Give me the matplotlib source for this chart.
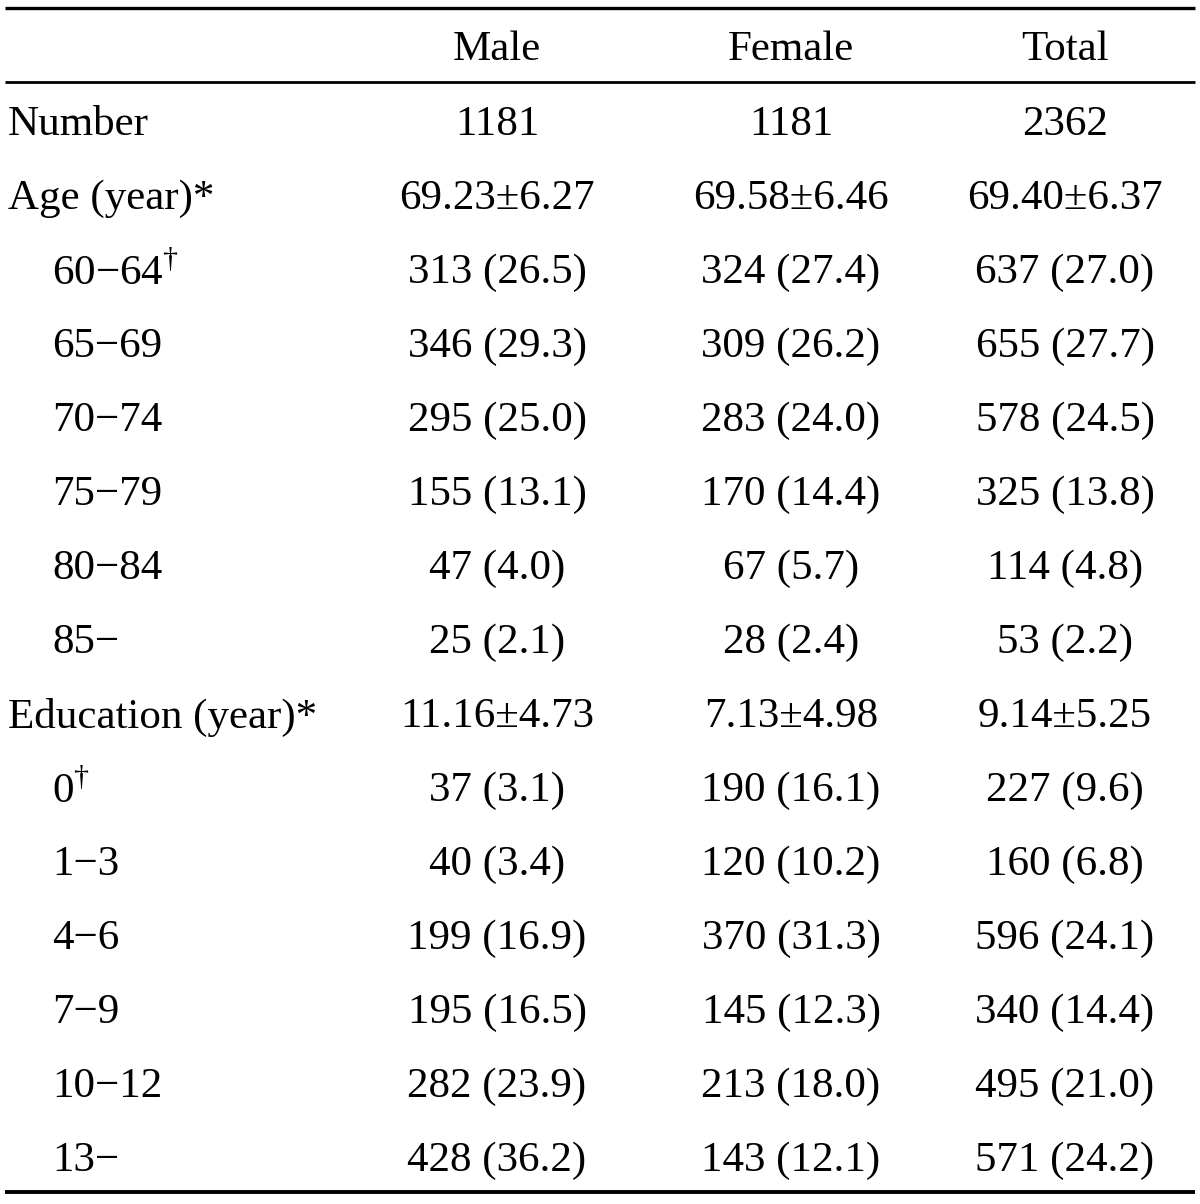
import matplotlib
matplotlib.use("Agg")
import matplotlib.pyplot as plt

plt.rcParams["font.family"] = ["Liberation Serif", "DejaVu Serif"]
plt.rcParams["mathtext.fontset"] = "custom"
plt.rcParams["mathtext.rm"] = "Liberation Serif"

# ── Table data ────────────────────────────────────────────────────────────────
columns = ["Male", "Female", "Total"]
row_labels = ["Number", "Age (year)*", "60−64$^{\\dagger}$", "65−69", "70−74", "75−79",
              "80−84", "85−", "Education (year)*", "0$^{\\dagger}$", "1−3", "4−6",
              "7−9", "10−12", "13−"]
indented = [False, False, True, True, True, True, True, True,
            False, True, True, True, True, True, True]
male = ["1181", "69.23±6.27", "313 (26.5)", "346 (29.3)", "295 (25.0)", "155 (13.1)",
        "47 (4.0)", "25 (2.1)", "11.16±4.73", "37 (3.1)", "40 (3.4)", "199 (16.9)",
        "195 (16.5)", "282 (23.9)", "428 (36.2)"]
female = ["1181", "69.58±6.46", "324 (27.4)", "309 (26.2)", "283 (24.0)", "170 (14.4)",
          "67 (5.7)", "28 (2.4)", "7.13±4.98", "190 (16.1)", "120 (10.2)", "370 (31.3)",
          "145 (12.3)", "213 (18.0)", "143 (12.1)"]
total = ["2362", "69.40±6.37", "637 (27.0)", "655 (27.7)", "578 (24.5)", "325 (13.8)",
         "114 (4.8)", "53 (2.2)", "9.14±5.25", "227 (9.6)", "160 (6.8)", "596 (24.1)",
         "340 (14.4)", "495 (21.0)", "571 (24.2)"]

W, H = 1200, 1204
fig = plt.figure(figsize=(W / 100, H / 100), dpi=100)
ax = fig.add_axes([0, 0, 1, 1])
ax.set_xlim(0, W)
ax.set_ylim(H, 0)
ax.axis("off")

FS = 31
col_x = [497, 791, 1065]
row_y0, row_step = 125, 74.0

# rules
for y, lw in [(8, 2.4), (82, 2.0), (1192, 2.8)]:
    ax.plot([5, 1195], [y, y], color="black", lw=lw, solid_capstyle="butt")

# header
for x, name in zip(col_x, columns):
    ax.text(x, 50, name, ha="center", va="center", fontsize=FS)

# body
for i, label in enumerate(row_labels):
    y = row_y0 + i * row_step
    ax.text(52 if indented[i] else 8, y, label, ha="left", va="center", fontsize=FS)
    for x, vals in zip(col_x, [male, female, total]):
        ax.text(x, y, vals[i], ha="center", va="center", fontsize=FS)

fig.savefig("out.png", dpi=100)
